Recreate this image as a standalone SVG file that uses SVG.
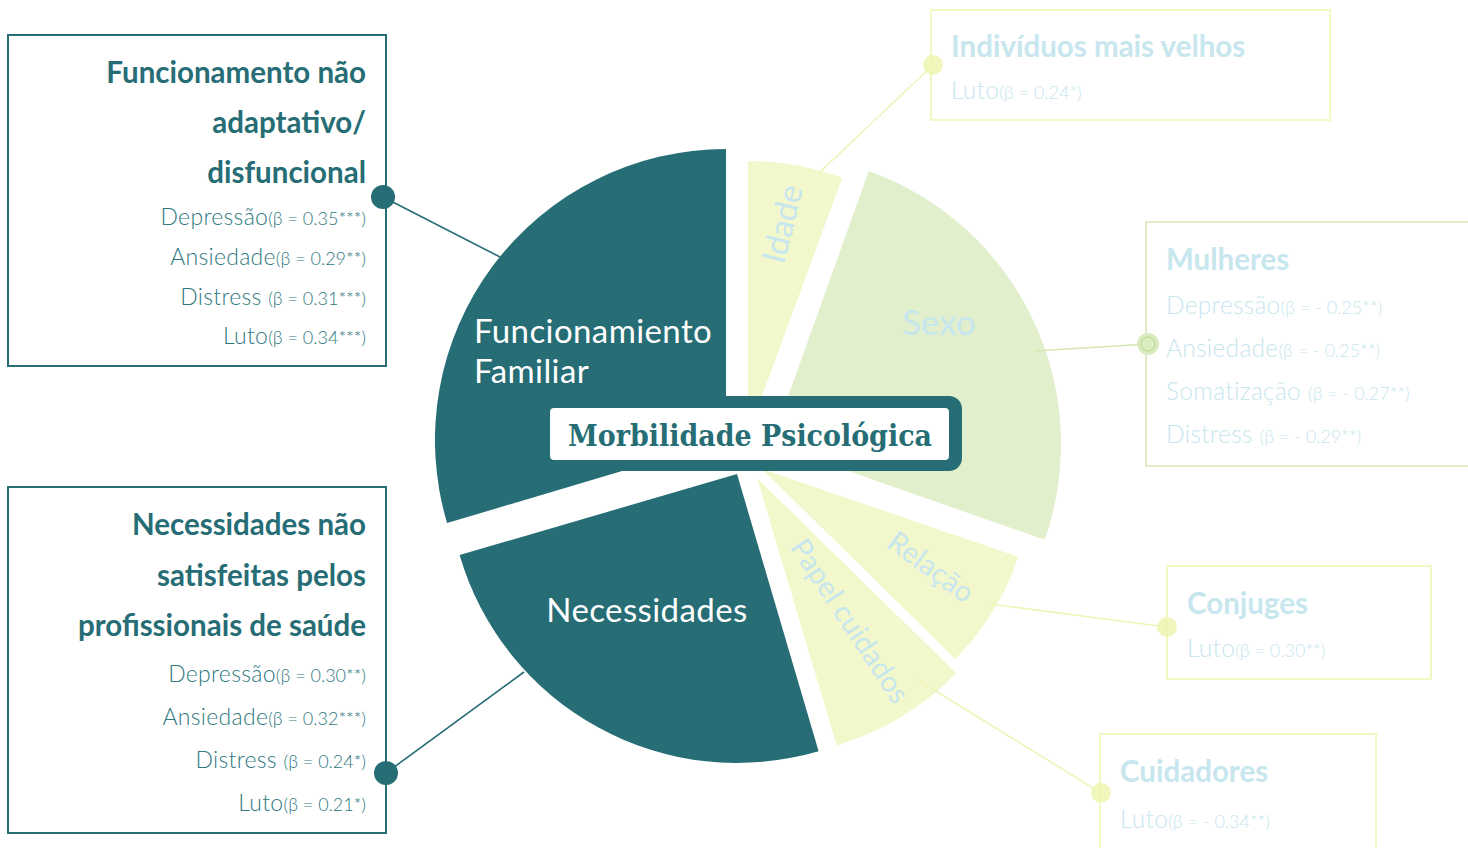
<svg xmlns="http://www.w3.org/2000/svg" width="1468" height="848" viewBox="0 0 1468 848">
<style>
.teal{fill:#266d75}
.yel{fill:#f3f8cc}
.grn{fill:#e2efcc}
.box{fill:#fff;stroke-width:2}
.bt{stroke:#266d75}
.by{stroke:#f2f7c4}
.bg{stroke:#e0eec8}
.h{font-family:Lato,"Noto Sans",sans-serif;font-weight:700;font-size:29.5px}
.m{font-family:Lato,"Noto Sans",sans-serif;font-weight:300;font-size:23px;letter-spacing:0.3px}
.mr{font-size:24.5px}
.s{font-size:18px;letter-spacing:0}
.dk{fill:#266d75}
.dk2{fill:#2f7880}
.pb{fill:#c7e6ee}
.lbl{font-family:Lato,"Noto Sans",sans-serif;font-weight:400}
.wl{fill:#ffffff;font-size:33px;letter-spacing:0.4px}
</style>
<rect width="1468" height="848" fill="#ffffff"/>

<g id="slice-funcionamiento">
<path class="teal" d="M726,440 L726,149 A291,291 0 0 0 447.1,523.1 Z"/>
<text class="lbl wl" x="474" y="343">Funcionamiento</text>
<text class="lbl wl" x="474" y="383">Familiar</text>
</g>
<g id="slice-necessidades">
<path class="teal" d="M737,474 L459.6,555.1 A289,289 0 0 0 818.6,751.2 Z"/>
<text class="lbl wl" x="647" y="622" text-anchor="middle">Necessidades</text>
</g>
<g id="slice-idade">
<path class="yel" d="M748,434 L748,161 A273,273 0 0 1 842.3,177.8 Z"/>
<text class="lbl pb" font-size="33" x="0" y="0" text-anchor="middle" transform="translate(783,224) rotate(-76) translate(0,11)">Idade</text>
</g>
<g id="slice-sexo">
<path class="grn" d="M771,444 L868.8,171 A290,290 0 0 1 1044.7,539.8 Z"/>
<text class="lbl pb" font-size="35" x="939" y="335" text-anchor="middle">Sexo</text>
</g>
<g id="slice-relacao">
<path class="yel" d="M762,469 L1018.4,556.8 A271,271 0 0 1 955.3,659 Z"/>
<text class="lbl pb" font-size="29" x="0" y="0" text-anchor="middle" transform="translate(931,567) rotate(36) translate(0,10)">Relação</text>
</g>
<g id="slice-papel">
<path class="yel" d="M757,478 L956.3,673.3 A279,279 0 0 1 836.7,745.4 Z"/>
<text class="lbl pb" font-size="29" x="0" y="0" text-anchor="middle" transform="translate(850,621) rotate(56.5) translate(0,10)">Papel cuidados</text>
</g>

<g id="connectors">
<line x1="383" y1="197" x2="500" y2="257" stroke="#266d75" stroke-width="1.6"/>
<line x1="386" y1="773" x2="524" y2="672" stroke="#266d75" stroke-width="1.6"/>
<line x1="818" y1="174" x2="933" y2="65" stroke="#eef5b8" stroke-width="1.6"/>
<line x1="1035" y1="351" x2="1148" y2="344" stroke="#d4e8b0" stroke-width="1.6"/>
<line x1="990" y1="604" x2="1167" y2="627" stroke="#eef5b8" stroke-width="1.6"/>
<line x1="918" y1="680" x2="1101" y2="793" stroke="#eef5b8" stroke-width="1.6"/>
</g>

<g id="title">
<rect x="540" y="396" width="422" height="75" rx="13" class="teal"/>
<rect x="550" y="408" width="399" height="52" rx="4" fill="#ffffff"/>
<text x="750" y="446" text-anchor="middle" font-family="'DejaVu Serif','Liberation Serif',serif" font-weight="700" font-size="29" fill="#266d75" textLength="364" lengthAdjust="spacingAndGlyphs">Morbilidade Psicológica</text>
</g>

<g id="box-funcionamento">
<rect class="box bt" x="8" y="35" width="378" height="331"/>
<text class="h dk" x="366" y="83" text-anchor="end">Funcionamento não</text>
<text class="h dk" x="366" y="133" text-anchor="end">adaptativo/</text>
<text class="h dk" x="366" y="183" text-anchor="end">disfuncional</text>
<text class="m dk2" x="366" y="225" text-anchor="end">Depressão<tspan class="s">(β = 0.35***)</tspan></text>
<text class="m dk2" x="366" y="265" text-anchor="end">Ansiedade<tspan class="s">(β = 0.29**)</tspan></text>
<text class="m dk2" x="366" y="305" text-anchor="end">Distress <tspan class="s">(β = 0.31***)</tspan></text>
<text class="m dk2" x="366" y="344" text-anchor="end">Luto<tspan class="s">(β = 0.34***)</tspan></text>
<circle cx="383" cy="197" r="12" fill="#266d75"/>
</g>

<g id="box-necessidades">
<rect class="box bt" x="8" y="487" width="378" height="346"/>
<text class="h dk" x="366" y="535" text-anchor="end">Necessidades não</text>
<text class="h dk" x="366" y="586" text-anchor="end">satisfeitas pelos</text>
<text class="h dk" x="366" y="636" text-anchor="end">profissionais de saúde</text>
<text class="m dk2" x="366" y="682" text-anchor="end">Depressão<tspan class="s">(β = 0.30**)</tspan></text>
<text class="m dk2" x="366" y="725" text-anchor="end">Ansiedade<tspan class="s">(β = 0.32***)</tspan></text>
<text class="m dk2" x="366" y="768" text-anchor="end">Distress <tspan class="s">(β = 0.24*)</tspan></text>
<text class="m dk2" x="366" y="811" text-anchor="end">Luto<tspan class="s">(β = 0.21*)</tspan></text>
<circle cx="386" cy="773" r="12" fill="#266d75"/>
</g>

<g id="box-idade">
<rect class="box by" x="931" y="10" width="399" height="110"/>
<text class="h pb" x="951" y="57">Indivíduos mais velhos</text>
<text class="m mr pb" x="951" y="99">Luto<tspan class="s">(β = 0.24*)</tspan></text>
<circle cx="933" cy="65" r="10" fill="#edf4b0" opacity="0.85"/>
</g>

<g id="box-sexo">
<rect class="box bg" x="1146" y="222" width="330" height="244"/>
<text class="h pb" x="1166" y="270">Mulheres</text>
<text class="m mr pb" x="1166" y="314">Depressão<tspan class="s">(β = - 0.25**)</tspan></text>
<text class="m mr pb" x="1166" y="357">Ansiedade<tspan class="s">(β = - 0.25**)</tspan></text>
<text class="m mr pb" x="1166" y="400">Somatização <tspan class="s">(β = - 0.27**)</tspan></text>
<text class="m mr pb" x="1166" y="443">Distress <tspan class="s">(β = - 0.29**)</tspan></text>
<circle cx="1148" cy="344" r="11" fill="#d8eabb" opacity="0.9"/>
<circle cx="1148" cy="344" r="7" fill="none" stroke="#c4dea0" stroke-width="1.5"/>
</g>

<g id="box-relacao">
<rect class="box by" x="1167" y="566" width="264" height="113"/>
<text class="h pb" x="1187" y="614">Conjuges</text>
<text class="m mr pb" x="1187" y="657">Luto<tspan class="s">(β = 0.30**)</tspan></text>
<circle cx="1167" cy="627" r="10" fill="#edf4b0" opacity="0.85"/>
</g>

<g id="box-papel">
<rect class="box by" x="1100" y="734" width="276" height="120"/>
<text class="h pb" x="1120" y="782">Cuidadores</text>
<text class="m mr pb" x="1120" y="828">Luto<tspan class="s">(β = - 0.34**)</tspan></text>
<circle cx="1101" cy="793" r="10" fill="#edf4b0" opacity="0.85"/>
</g>
</svg>
